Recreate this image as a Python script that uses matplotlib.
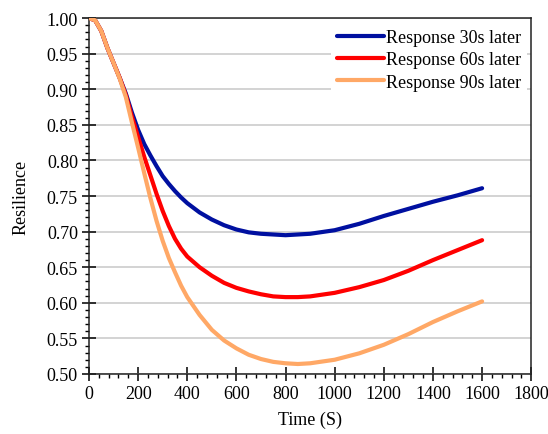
import matplotlib
matplotlib.use('Agg')
import matplotlib.pyplot as plt
from matplotlib.ticker import MultipleLocator

plt.rcParams['font.family'] = 'Liberation Serif'
plt.rcParams['font.size'] = 13

# time (s) and resilience
time = [0, 25, 50, 75, 100, 125, 150, 175, 200, 225, 250, 275, 300, 325, 350,
        375, 400, 450, 500, 550, 600, 650, 700, 750, 800, 850, 900, 1000,
        1100, 1200, 1300, 1400, 1500, 1600]

resp_30 = [1.000, 0.997, 0.982, 0.958, 0.937, 0.916, 0.894, 0.867, 0.843, 0.823,
           0.807, 0.792, 0.778, 0.767, 0.757, 0.748, 0.740, 0.727, 0.717, 0.709,
           0.703, 0.699, 0.697, 0.696, 0.695, 0.696, 0.697, 0.702, 0.711, 0.722,
           0.732, 0.742, 0.751, 0.761]
resp_60 = [1.000, 0.997, 0.982, 0.958, 0.937, 0.916, 0.892, 0.861, 0.833, 0.805,
           0.779, 0.753, 0.729, 0.708, 0.690, 0.676, 0.665, 0.650, 0.638, 0.628,
           0.621, 0.616, 0.612, 0.609, 0.608, 0.608, 0.609, 0.614, 0.622, 0.632,
           0.645, 0.660, 0.674, 0.688]
resp_90 = [1.000, 0.997, 0.982, 0.958, 0.937, 0.915, 0.889, 0.853, 0.818, 0.782,
           0.747, 0.715, 0.687, 0.663, 0.643, 0.624, 0.608, 0.583, 0.562, 0.547,
           0.536, 0.527, 0.521, 0.517, 0.515, 0.514, 0.515, 0.520, 0.529, 0.541,
           0.556, 0.573, 0.588, 0.602]

labels = ['Response 30s later', 'Response 60s later', 'Response 90s later']
colors = ['#0010A0', '#FF0000', '#FFA866']

fig = plt.figure(figsize=(5.48, 4.35), dpi=100)
ax = fig.add_axes([0.1624, 0.138, 0.807, 0.818])

# the 90s line sits on top where the curves overlap at the start
for ys, lab, c, z in zip([resp_30, resp_60, resp_90], labels, colors, [1, 2, 3]):
    ax.plot(time, ys, color=c, lw=3.0, label=lab, zorder=z,
            solid_capstyle='round', solid_joinstyle='round')

ax.set_xlim(0, 1800)
ax.set_ylim(0.5, 1.0)
ax.xaxis.set_major_locator(MultipleLocator(200))
ax.xaxis.set_minor_locator(MultipleLocator(40))
ax.yaxis.set_major_locator(MultipleLocator(0.05))
ax.yaxis.set_minor_locator(MultipleLocator(0.01))
ax.yaxis.set_major_formatter(plt.FormatStrFormatter('%.2f'))

ax.tick_params(which='major', direction='inout', length=10, width=1.1, pad=3)
ax.tick_params(which='minor', direction='out', length=3, width=1.0)

ax.grid(axis='y', which='major', color='#c8c8c8', lw=1.1, zorder=0)
ax.set_axisbelow(True)
for sp in ax.spines.values():
    sp.set_linewidth(1.1)
    sp.set_color('#222222')

ax.set_xlabel('Time (S)', labelpad=6)
ax.set_ylabel('Resilience', labelpad=12)

leg = ax.legend(loc='upper right', bbox_to_anchor=(0.99, 0.985), frameon=True,
                fancybox=False, edgecolor='none', facecolor='white', framealpha=1,
                handlelength=2.6, handletextpad=0.15, labelspacing=0.3,
                borderpad=0.3, borderaxespad=0.0)

fig.savefig('out.png', dpi=100)
